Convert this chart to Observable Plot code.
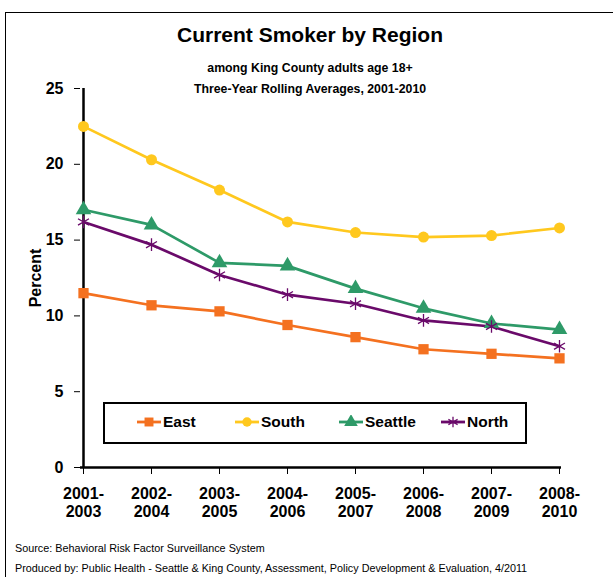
<!DOCTYPE html>
<html>
<head>
<meta charset="utf-8">
<script src="https://cdn.jsdelivr.net/npm/d3@7"></script>
<script src="https://cdn.jsdelivr.net/npm/@observablehq/plot@0.6"></script>
<style>
  html, body { margin: 0; padding: 0; background: #fff; width: 613px; height: 577px; overflow: hidden; }
  body { position: relative; font-family: "Liberation Sans", Arial, sans-serif; }
  #frame { position: absolute; left: 5px; top: 12px; width: 700px; height: 620px; border: 1px solid #000; box-sizing: border-box; }
  #title { position: absolute; left: 0; width: 620px; top: 23px; text-align: center; font-weight: bold; font-size: 21px; }
  .sub { position: absolute; left: 0; width: 620px; text-align: center; font-weight: bold; font-size: 12.3px; }
  #chart { position: absolute; left: 0; top: 0; }
  #legend { position: absolute; left: 103px; top: 402px; width: 424px; height: 42px; border: 2.5px solid #000; box-sizing: border-box; background: #fff; }
  .item { position: absolute; top: 9px; display: flex; align-items: center; font-weight: bold; font-size: 15.5px; }
  .item svg { margin-right: 2px; }
  .cap { position: absolute; left: 15px; font-size: 10.8px; }
</style>
</head>
<body>
<div id="frame"></div>
<div id="title">Current Smoker by Region</div>
<div class="sub" style="top:61px">among King County adults age 18+</div>
<div class="sub" style="top:82px">Three-Year Rolling Averages, 2001-2010</div>
<div id="chart"></div>
<div id="legend"></div>
<div class="cap" style="top:542px">Source: Behavioral Risk Factor Surveillance System</div>
<div class="cap" style="top:562px">Produced by: Public Health - Seattle &amp; King County, Assessment, Policy Development &amp; Evaluation, 4/2011</div>
<script>
const periods = ["2001-2003","2002-2004","2003-2005","2004-2006","2005-2007","2006-2008","2007-2009","2008-2010"];
const east    = [11.5, 10.7, 10.3, 9.4, 8.6, 7.8, 7.5, 7.2];
const south   = [22.5, 20.3, 18.3, 16.2, 15.5, 15.2, 15.3, 15.8];
const seattle = [17.0, 16.0, 13.5, 13.3, 11.8, 10.5, 9.5, 9.1];
const north   = [16.2, 14.7, 12.7, 11.4, 10.8, 9.7, 9.3, 8.0];
const regions = ["East", "South", "Seattle", "North"];
const colors  = ["#F47120", "#FFC81E", "#2E9A68", "#6A0A6A"];
const symbols = ["square", "circle", "triangle", "asterisk"];
const seriesValues = [east, south, seattle, north];
const yTicks = [0, 5, 10, 15, 20, 25];

const rows = [];
regions.forEach((r, i) => seriesValues[i].forEach((v, j) => rows.push({region: r, period: periods[j], value: v})));

const marks = [
  Plot.axisY({ticks: yTicks, tickSize: 6, tickPadding: 11, fontSize: 16, fontWeight: "bold", label: "Percent", labelAnchor: "center", labelArrow: "none", labelOffset: 51}),
  Plot.axisX({tickSize: 7, tickPadding: 12, fontSize: 16, fontWeight: "bold", label: null, tickFormat: d => d.replace("-", "-\n"), lineHeight: 1.1}),
  Plot.ruleY([0], {stroke: "#000", strokeWidth: 2.5}),
  Plot.ruleX([periods[0]], {y1: 0, y2: 25, stroke: "#000", strokeWidth: 2.5})
];
regions.forEach((r, i) => {
  const d = rows.filter(o => o.region === r);
  marks.push(Plot.line(d, {x: "period", y: "value", stroke: colors[i], strokeWidth: 2.7}));
});
regions.forEach((r, i) => {
  const d = rows.filter(o => o.region === r);
  const sym = symbols[i];
  if (sym === "asterisk") {
    marks.push(Plot.dot(d, {x: "period", y: "value", symbol: sym, stroke: colors[i], strokeWidth: 1.3, r: 6}));
  } else {
    marks.push(Plot.dot(d, {x: "period", y: "value", symbol: sym, fill: colors[i], stroke: "none", r: sym === "circle" ? 5.5 : 5.8}));
  }
});

const chart = Plot.plot({
  width: 613,
  height: 540,
  marginLeft: 80,
  marginRight: 52,
  marginTop: 88,
  marginBottom: 73,
  style: {fontFamily: "'Liberation Sans', Arial, sans-serif", color: "#000", background: "transparent", fontSize: "16px"},
  x: {type: "point", domain: periods, padding: 0},
  y: {domain: [0, 25]},
  marks
});
chart.style.fontWeight = "bold";
document.getElementById("chart").appendChild(chart);

// legend
const legend = document.getElementById("legend");
const lpos = [32, 130, 234, 336];
regions.forEach((r, i) => {
  const it = document.createElement("div");
  it.className = "item";
  it.style.left = lpos[i] + "px";
  const s = d3.create("svg").attr("width", 24).attr("height", 14);
  s.append("line").attr("x1", 0).attr("x2", 24).attr("y1", 7).attr("y2", 7).attr("stroke", colors[i]).attr("stroke-width", 2.8);
  const sym = d3.symbol().type({square: d3.symbolSquare, circle: d3.symbolCircle, triangle: d3.symbolTriangle, asterisk: d3.symbolAsterisk}[symbols[i]]).size(symbols[i] === "circle" ? 70 : 80)();
  const p = s.append("path").attr("d", sym).attr("transform", "translate(12,7)");
  if (symbols[i] === "asterisk") p.attr("fill", "none").attr("stroke", colors[i]).attr("stroke-width", 1.3);
  else p.attr("fill", colors[i]);
  it.appendChild(s.node());
  const t = document.createElement("span");
  t.textContent = r;
  it.appendChild(t);
  legend.appendChild(it);
});
</script>
</body>
</html>
